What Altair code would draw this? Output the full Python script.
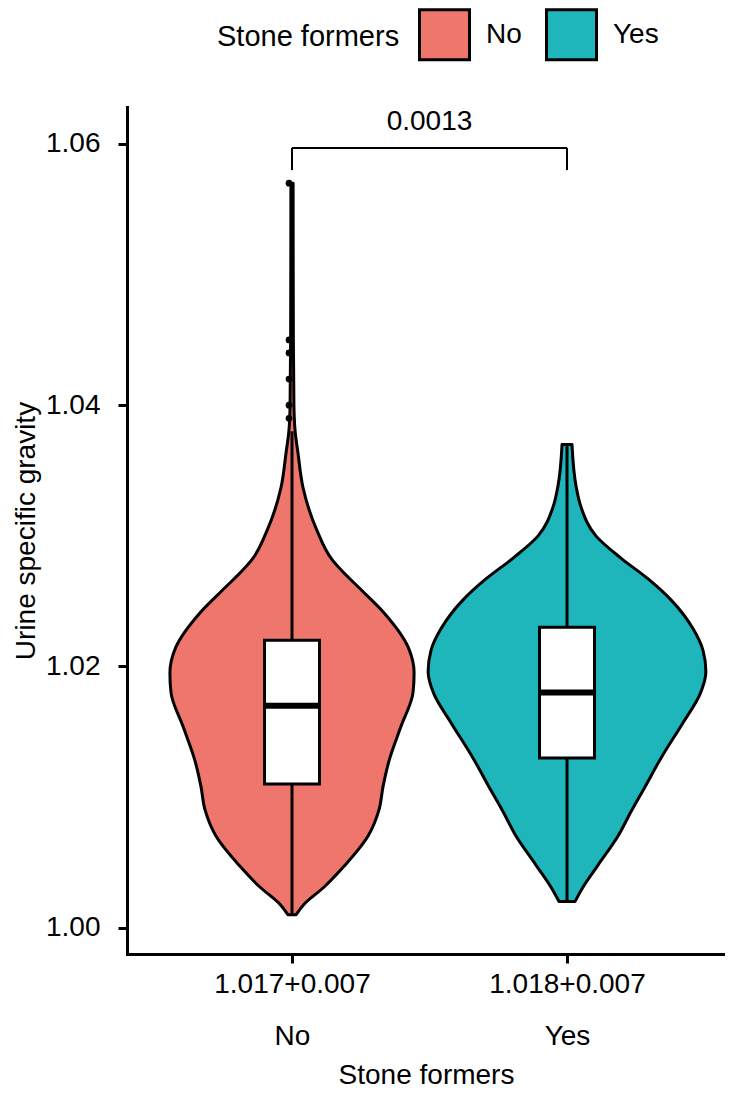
import altair as alt
import pandas as pd

# ---------------- data ----------------
groups = ["No", "Yes"]
group_pos = [0, 1]
x_stats = ["1.017+0.007", "1.018+0.007"]
fills = ["#EE766D", "#1EB6BB"]

# violin outlines: specific gravity value and half-width (in category units)
no_y = [1.0010, 1.0018, 1.0031, 1.0047, 1.0070, 1.0090, 1.0108, 1.0128, 1.0154,
        1.0180, 1.0195, 1.0215, 1.0241, 1.0261, 1.0274, 1.0282, 1.0304, 1.0337,
        1.0363, 1.0381, 1.0400, 1.0450, 1.0570]
no_hw = [0.015, 0.044, 0.116, 0.189, 0.276, 0.316, 0.331, 0.353, 0.396,
         0.440, 0.444, 0.422, 0.335, 0.240, 0.178, 0.145, 0.091, 0.040,
         0.022, 0.011, 0.007, 0.005, 0.004]
yes_y = [1.0020, 1.0031, 1.0048, 1.0070, 1.0089, 1.0108, 1.0130, 1.0157, 1.0179,
         1.0196, 1.0212, 1.0229, 1.0251, 1.0267, 1.0283, 1.0300, 1.0322, 1.0338,
         1.0370]
yes_hw = [0.029, 0.058, 0.113, 0.185, 0.233, 0.284, 0.342, 0.422, 0.484,
          0.505, 0.495, 0.458, 0.378, 0.295, 0.196, 0.105, 0.051, 0.033,
          0.018]

# box plot statistics
box_min = [1.001, 1.002]
box_q1 = [1.011, 1.013]
box_med = [1.017, 1.018]
box_q3 = [1.022, 1.023]
box_max = [1.038, 1.037]
outliers_no = [1.039, 1.040, 1.042, 1.044, 1.045, 1.057]

# comparison bracket
p_label = "0.0013"
bracket_y = 1.0597
bracket_tip = 1.0580
label_y = 1.0611

# ---------------- tables ----------------
vrows = []
for g, p, ys, hws in [(groups[0], group_pos[0], no_y, no_hw),
                      (groups[1], group_pos[1], yes_y, yes_hw)]:
    for yv, hv in zip(ys, hws):
        vrows.append({"group": g, "pos": p, "y": yv, "hw": hv})
vdf = pd.DataFrame(vrows)

bdf = pd.DataFrame({"group": groups, "pos": group_pos, "lo": box_min, "q1": box_q1,
                    "med": box_med, "q3": box_q3, "hi": box_max})
odf = pd.DataFrame({"group": groups[0], "pos": group_pos[0], "v": outliers_no})
brdf = pd.DataFrame({"x": [group_pos[0]], "x2": [group_pos[1]], "y": [bracket_y]})
tipdf = pd.DataFrame({"x": group_pos, "y": [bracket_y] * 2, "y2": [bracket_tip] * 2})
txtdf = pd.DataFrame({"x": [(group_pos[0] + group_pos[1]) / 2], "y": [label_y], "t": [p_label]})

# ---------------- scales / axes ----------------
FONT = "Liberation Sans"
LW = 3
yscale = alt.Scale(domain=[0.99799, 1.06283], nice=False, zero=False)
xscale = alt.Scale(domain=[-0.6, 1.5745], nice=False, zero=False)

label_expr = (f"datum.value == {group_pos[0]} ? ['{x_stats[0]}', '{groups[0]}'] : "
              f"['{x_stats[1]}', '{groups[1]}']")

yaxis = alt.Axis(title="Urine specific gravity", values=[1.00, 1.02, 1.04, 1.06],
                 format=".2f", grid=False, domainColor="black", domainWidth=LW,
                 domainCap="square", tickColor="black", tickWidth=LW, tickSize=9,
                 labelFontSize=28, labelColor="black", labelPadding=18, labelFont=FONT,
                 titleFontSize=28, titleFontWeight="normal", titleColor="black",
                 titleFont=FONT, titleX=-93, titleBaseline="alphabetic", titleAngle=270)
xaxis = alt.Axis(title="Stone formers", values=group_pos, labelExpr=label_expr,
                 grid=False, domainColor="black", domainWidth=LW, domainCap="square",
                 tickColor="black", tickWidth=LW, tickSize=9,
                 labelFontSize=28, labelColor="black", labelPadding=7, labelFont=FONT,
                 labelLineHeight=52, labelOverlap=False, labelFlush=False,
                 titleFontSize=28, titleFontWeight="normal", titleColor="black",
                 titleFont=FONT, titleY=129, titleBaseline="alphabetic")

legend = alt.Legend(title="Stone formers", orient="none", legendX=90, legendY=-99,
                    direction="horizontal", titleOrient="left", titleFontSize=29,
                    titleFont=FONT, titleFontWeight="normal", titleColor="black",
                    titlePadding=18, titleAnchor="middle", titleBaseline="middle",
                    titleLimit=400, labelLimit=200,
                    labelFontSize=28, labelFont=FONT, labelColor="black", labelOffset=15,
                    symbolType="square", symbolSize=2500, symbolStrokeColor="black",
                    symbolStrokeWidth=LW, symbolOpacity=1, columnPadding=18,
                    padding=0)

# ---------------- layers ----------------
violin = alt.Chart(vdf).transform_calculate(
    xl="datum.pos - datum.hw", xr="datum.pos + datum.hw"
).mark_area(orient="horizontal", interpolate="monotone", stroke="black",
            strokeWidth=LW, strokeJoin="round", fillOpacity=1).encode(
    y=alt.Y("y:Q", scale=yscale, axis=yaxis),
    x=alt.X("xl:Q", scale=xscale, axis=xaxis, stack=None),
    x2="xr:Q",
    fill=alt.Fill("group:N", scale=alt.Scale(domain=groups, range=fills), legend=legend),
    detail="group:N",
)

whisk_lo = alt.Chart(bdf).mark_rule(color="black", strokeWidth=LW).encode(
    x=alt.X("pos:Q", scale=xscale, axis=xaxis),
    y=alt.Y("lo:Q", scale=yscale, axis=yaxis), y2="q1:Q")
whisk_hi = alt.Chart(bdf).mark_rule(color="black", strokeWidth=LW).encode(
    x=alt.X("pos:Q", scale=xscale, axis=xaxis),
    y=alt.Y("q3:Q", scale=yscale, axis=yaxis), y2="hi:Q")

box = alt.Chart(bdf).transform_calculate(
    bl="datum.pos - 0.1", br="datum.pos + 0.1"
).mark_rect(fill="white", stroke="black", strokeWidth=LW).encode(
    x=alt.X("bl:Q", scale=xscale, axis=xaxis), x2="br:Q",
    y=alt.Y("q1:Q", scale=yscale, axis=yaxis), y2="q3:Q")

median = alt.Chart(bdf).transform_calculate(
    bl="datum.pos - 0.1", br="datum.pos + 0.1"
).mark_rule(color="black", strokeWidth=6).encode(
    x=alt.X("bl:Q", scale=xscale, axis=xaxis), x2="br:Q",
    y=alt.Y("med:Q", scale=yscale, axis=yaxis))

outl = alt.Chart(odf).mark_point(filled=True, color="black", size=45, opacity=1,
                                 xOffset=-3).encode(
    x=alt.X("pos:Q", scale=xscale, axis=xaxis),
    y=alt.Y("v:Q", scale=yscale, axis=yaxis))

bracket = alt.Chart(brdf).mark_rule(color="black", strokeWidth=2).encode(
    x=alt.X("x:Q", scale=xscale, axis=xaxis), x2="x2:Q",
    y=alt.Y("y:Q", scale=yscale, axis=yaxis))
tips = alt.Chart(tipdf).mark_rule(color="black", strokeWidth=2).encode(
    x=alt.X("x:Q", scale=xscale, axis=xaxis),
    y=alt.Y("y:Q", scale=yscale, axis=yaxis), y2="y2:Q")
ptext = alt.Chart(txtdf).mark_text(fontSize=28, font=FONT, color="black",
                                   baseline="alphabetic", align="center").encode(
    x=alt.X("x:Q", scale=xscale, axis=xaxis),
    y=alt.Y("y:Q", scale=yscale, axis=yaxis), text="t:N")

chart = alt.layer(violin, whisk_lo, whisk_hi, box, median, outl, bracket, tips, ptext).properties(
    width=598, height=847,
    autosize=alt.AutoSizeParams(type="none"),
    padding={"left": 119, "top": 99, "right": 0, "bottom": 136},
).configure(background="white", font=FONT).configure_view(stroke=None)

chart.save("out.html", embed_options={"renderer": "svg", "actions": False})
